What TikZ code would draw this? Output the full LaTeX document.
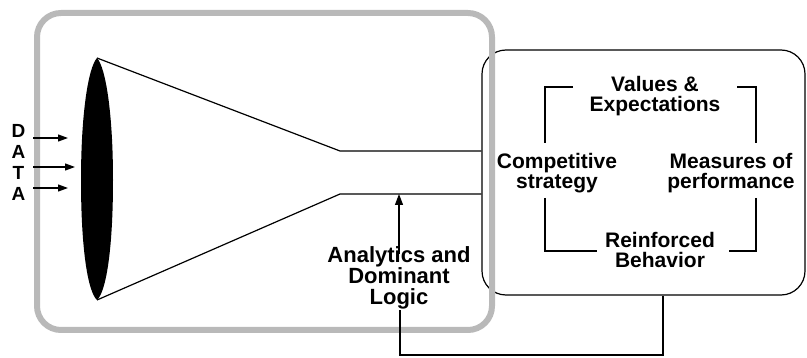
\documentclass[tikz,border=0pt]{standalone}
\usepackage{fontspec}
\setmainfont{Liberation Sans}
\usetikzlibrary{arrows.meta}
\begin{document}
\begin{tikzpicture}[x=1pt,y=-1pt,
  ln/.style={line width=1.2pt, black},
  frame/.style={draw=gray!55, line width=6pt, rounded corners=24pt, minimum width=455pt, minimum height=317pt, inner sep=0pt},
  panel/.style={draw=black, line width=1.2pt, rounded corners=24pt, minimum width=323pt, minimum height=245pt, inner sep=0pt},
  lbl/.style={font=\fontsize{21}{20.5}\selectfont\bfseries, align=center, inner sep=0pt},
  biglbl/.style={lbl, font=\fontsize{22}{21}\selectfont\bfseries},
  datalbl/.style={font=\fontsize{19}{20}\selectfont\bfseries, inner sep=0pt},
  arr/.style={ln, -{Triangle[length=11pt,width=8pt]}},
  darr/.style={ln, -{Triangle[length=10pt,width=7pt]}}
]
\useasboundingbox (0,0) rectangle (807,358);

% right-hand panel: values, strategy, measures, behavior
\node[panel] (rb) at (643.5,172.5) {};
\node[lbl] (val) at (655,96) {Values \&\\Expectations};
\node[lbl] (comp) at (557,173) {Competitive\\strategy};
\node[lbl] (meas) at (731,173) {Measures of\\performance};
\node[lbl] (reinf) at (660,250) {Reinforced\\Behavior};

% corner brackets around the four labels
\draw[ln] (573,87) -- (545,87) -- (545,143);
\draw[ln] (737,87) -- (756,87) -- (756,143);
\draw[ln] (545,198) -- (545,251) -- (597,251);
\draw[ln] (756,198) -- (756,251) -- (729,251);

% shaded outer frame
\node[frame] (fr) at (264.5,171.5) {};

% lens and funnel
\fill[black] (97,58) .. controls (106,68) and (113,115) .. (113,180)
  .. controls (113,250) and (106,292) .. (97,300)
  .. controls (88,292) and (81,250) .. (81,180)
  .. controls (81,115) and (88,68) .. (97,58) -- cycle;
\coordinate (lensT) at (97,58);
\coordinate (lensB) at (97,300);
\coordinate (upL) at (340,151);
\coordinate (lowL) at (340,194);
\draw[ln] (lensT) -- (upL) -- (upL -| rb.west);
\draw[ln] (lensB) -- (lowL) -- (lowL -| rb.west);

% data inputs
\node[datalbl] (d1) at (18.5,130.5) {D};
\node[datalbl] (d2) at (18.5,151.5) {A};
\node[datalbl] (d3) at (18.5,172.5) {T};
\node[datalbl] (d4) at (18.5,194) {A};
\coordinate (a1) at (33,138);
\coordinate (a2) at (33,167);
\coordinate (a3) at (33,188);
\draw[darr] (a1) -- (68,138);
\draw[darr] (a2) -- (75,167);
\draw[darr] (a3) -- (68,188);

% analytics and dominant logic
\node[biglbl] (adl) at (399,278) {Analytics and\\Dominant\\Logic};
\draw[arr] ([yshift=-8pt]adl.north) -- (adl.north |- lowL);

% feedback loop from the panel back to the logic
\coordinate (fbR) at (663,355);
\coordinate (fbL) at (400,355);
\draw[ln] (rb.south -| fbR) -- (fbR) -- (fbL) -- (adl.south -| fbL);
\end{tikzpicture}
\end{document}
